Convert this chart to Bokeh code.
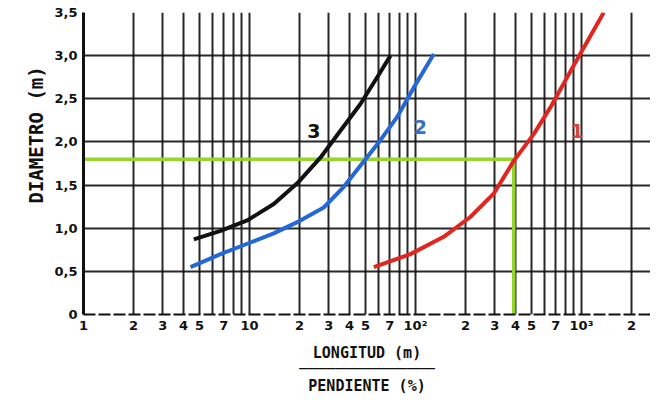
from bokeh.plotting import figure
from bokeh.models import FixedTicker, Label, Range1d
from bokeh.embed import file_html
from bokeh.resources import INLINE

# ---- data ----
curve1_x = [56.1, 93.3, 148, 214, 296, 391, 516, 650, 820, 1010, 1362]
curve1_y = [0.55, 0.70, 0.90, 1.13, 1.40, 1.78, 2.09, 2.40, 2.75, 3.06, 3.50]
curve2_x = [4.41, 6.69, 9.69, 14.0, 19.4, 28.0, 37.0, 47.7, 61.5, 77.6, 97.7, 129]
curve2_y = [0.55, 0.70, 0.82, 0.94, 1.07, 1.24, 1.48, 1.75, 2.02, 2.29, 2.63, 3.02]
curve3_x = [4.62, 6.69, 9.69, 14.0, 19.4, 26.8, 35.3, 46.6, 58.8, 70.7]
curve3_y = [0.87, 0.97, 1.09, 1.28, 1.52, 1.82, 2.13, 2.44, 2.75, 3.00]
example_y = 1.8
example_x = 391

y_ticks = [0, 0.5, 1.0, 1.5, 2.0, 2.5, 3.0, 3.5]
y_tick_labels = ["0", "0,5", "1,0", "1,5", "2,0", "2,5", "3,0", "3,5"]
x_ticks = [1, 2, 3, 4, 5, 7, 10, 20, 30, 40, 50, 70, 100, 200, 300, 400, 500, 700, 1000, 2000]
x_tick_labels = ["1", "2", "3", "4", "5", "7", "10", "2", "3", "4", "5", "7", "10²",
                 "2", "3", "4", "5", "7", "10³", "2"]
x_grid = [m * 10 ** d for d in range(4) for m in range(1, 10) if m * 10 ** d <= 2600]

curve_labels = ["1", "2", "3"]
curve_label_x = [942, 107, 24.4]
curve_label_y = [2.13, 2.17, 2.13]
curve_colors = ["#e0261e", "#2468d8", "#111111"]
label_colors = ["#d0463a", "#3a70c0", "#111111"]

p = figure(width=650, height=397, x_axis_type="log",
           x_range=Range1d(1, 2606), y_range=Range1d(0, 3.5),
           output_backend="svg", toolbar_location=None,
           min_border_left=83, min_border_right=0, min_border_top=12, min_border_bottom=83)
p.outline_line_color = None
p.background_fill_color = "white"
p.border_fill_color = "white"

font = "DejaVu Sans"
mono = "DejaVu Sans Mono"
for ax in (p.xaxis[0], p.yaxis[0]):
    ax.major_tick_out = 0
    ax.major_tick_in = 0
    ax.minor_tick_out = 0
    ax.minor_tick_in = 0
    ax.major_label_text_font = font
    ax.major_label_text_font_style = "bold"
    ax.major_label_text_font_size = "13px"
    ax.major_label_text_color = "#111111"
    ax.axis_line_color = "#111111"
    ax.axis_label_text_font = mono
    ax.axis_label_text_font_style = "bold"
    ax.axis_label_text_color = "#111111"

p.yaxis.ticker = FixedTicker(ticks=y_ticks)
p.yaxis.major_label_overrides = {t: l for t, l in zip(y_ticks, y_tick_labels)}
p.yaxis.axis_line_width = 3
p.yaxis.major_label_standoff = 6
p.yaxis.axis_label = "\u00a0" * 5 + "DIAMETRO (m)"
p.yaxis.axis_label_text_font_size = "19px"
p.yaxis.axis_label_standoff = 4

p.xaxis.ticker = FixedTicker(ticks=x_ticks)
p.xaxis.major_label_overrides = {t: l for t, l in zip(x_ticks, x_tick_labels)}
p.xaxis.axis_line_width = 2
p.xaxis.axis_line_dash = "12 3"
p.xaxis.major_label_standoff = 3
p.xaxis.axis_label = "LONGITUD (m)\n" + "─" * 15 + "\nPENDIENTE (%)"
p.xaxis.axis_label_text_font_size = "15px"
p.xaxis.axis_label_text_line_height = 0.92
p.xaxis.axis_label_standoff = 8

p.xgrid.ticker = FixedTicker(ticks=x_grid)
p.xgrid.grid_line_color = "#111111"
p.xgrid.grid_line_width = 2
p.xgrid.grid_line_alpha = 0.9
p.ygrid.ticker = FixedTicker(ticks=y_ticks)
p.ygrid.grid_line_color = "#111111"
p.ygrid.grid_line_width = 2
p.ygrid.grid_line_alpha = 0.9

# example (green)
p.line([1, example_x], [example_y, example_y], line_color="#96d42e", line_width=3.5)
p.line([example_x, example_x], [example_y, 0], line_color="#96d42e", line_width=3.5)

p.line(curve3_x, curve3_y, line_color=curve_colors[2], line_width=4, line_join="round")
p.line(curve2_x, curve2_y, line_color=curve_colors[1], line_width=4, line_join="round")
p.line(curve1_x, curve1_y, line_color=curve_colors[0], line_width=4, line_join="round")

for t, x, y, c in zip(curve_labels, curve_label_x, curve_label_y, label_colors):
    p.add_layout(Label(x=x, y=y, text=t, text_color=c, text_font=font,
                       text_font_style="bold", text_font_size="19px",
                       text_align="center", text_baseline="middle"))

open("out.html", "w").write(file_html(p, INLINE))
